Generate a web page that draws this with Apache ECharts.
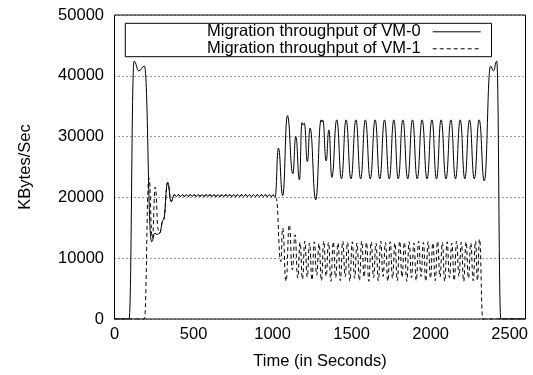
<!DOCTYPE html>
<html>
<head>
<meta charset="utf-8">
<script src="https://cdn.jsdelivr.net/npm/echarts@6/dist/echarts.min.js"></script>
<style>html,body{margin:0;padding:0;background:#fff}#c{width:533px;height:375px}</style>
</head>
<body>
<div id="c"></div>
<script>
const seriesNames = ['Migration throughput of VM-0', 'Migration throughput of VM-1'];
const xTicks = [0, 500, 1000, 1500, 2000, 2500];
const yTicks = [0, 10000, 20000, 30000, 40000, 50000];

// VM-0 start-up phase
const vm0Start = [[0,0],[92,0],[124,42400],[154,40800],[189,41600],[235,12700],[256,14100],[270,13900],[284,14100]];
// VM-1 start-up phase
const vm1Start = [[0,0],[189,0],[218,23150],[239,13300],[258,21700],[277,14700],[284,14100]];
// shared steady phase (both VMs overlap)
const steady = [[309,16300],[337,22450],[358,19330],[379,20450],
 [392,20150],[404,20450],[417,20150],[429,20450],[442,20150],[454,20450],[467,20150],[479,20450],
 [492,20150],[504,20450],[517,20150],[529,20450],[542,20150],[554,20450],[567,20150],[579,20450],
 [592,20150],[604,20450],[617,20150],[629,20450],[642,20150],[654,20450],[667,20150],[679,20450],
 [692,20150],[704,20450],[717,20150],[729,20450],[742,20150],[754,20450],[767,20150],[779,20450],
 [792,20150],[804,20450],[817,20150],[829,20450],[842,20150],[854,20450],[867,20150],[879,20450],
 [892,20150],[904,20450],[917,20150],[929,20450],[942,20150],[954,20450],[967,20150],[979,20450],
 [992,20150],[1004,20400],[1016,20100]];
// VM-0 after 1000 s
const vm0Late = [[1037,28100],[1064,20300],[1094,33450],[1128,23900],[1147,30000],[1170,22900],
 [1186,32300],[1194,31900],[1201,32200],[1220,25900],[1237,31400],[1273,19600],
 [1307,32750],[1313,32400],[1318,32700],[1339,26000],[1356,31100],[1375,23300],
 [1406,32750],[1436,23050],[1465,32750],[1496,23050],[1527,32750],[1557,23050],[1587,32750],[1618,23050],
 [1649,32750],[1678,23050],[1708,32750],[1738,23050],[1767,32750],[1795,23050],[1824,32750],[1855,23050],
 [1885,32750],[1915,23050],[1946,32750],[1977,23050],[2008,32750],[2037,23050],[2066,32750],[2097,23050],
 [2128,32750],[2157,23050],[2187,32750],[2216,23050],[2246,32750],[2276,23050],[2307,32750],[2339,22700],
 [2379,41600],[2397,40800],[2418,42400],[2444,0],[2600,0]];
// VM-1 after 1000 s
const vm1Late = [[1022,19900],[1052,9460],[1064,14950],[1085,6180],[1106,15500],[1125,8100],[1142,13850],[1159,6730],
 [1174,12600],[1189,6500],[1204,12800],[1219,6900],[1234,12500],[1249,6400],[1264,12700],[1279,7200],
 [1294,12400],[1309,6300],[1324,12800],[1339,7000],[1354,12600],[1369,6200],[1384,12700],[1399,6800],
 [1414,12500],[1429,6300],[1444,12800],[1459,7000],[1474,12600],[1489,6200],[1504,12700],[1519,6700],
 [1534,12500],[1549,6300],[1564,12800],[1579,6900],[1594,12600],[1609,6200],[1624,12700],[1639,6800],
 [1654,12500],[1669,6300],[1684,12800],[1699,7000],[1714,12600],[1729,6200],[1744,12700],[1759,6700],
 [1774,12500],[1789,6300],[1804,12800],[1819,6900],[1834,12600],[1849,6200],[1864,12700],[1879,6800],
 [1894,12500],[1909,6300],[1924,12800],[1939,7000],[1954,12600],[1969,6200],[1984,12700],[1999,6700],
 [2014,12500],[2029,6300],[2044,12800],[2059,6900],[2074,12600],[2089,6200],[2104,12700],[2119,6800],
 [2134,12500],[2149,6300],[2164,12800],[2179,7000],[2194,12600],[2209,6200],[2224,12700],[2239,6700],
 [2254,12500],[2269,6300],[2284,12800],[2296,6300],[2309,13150],[2330,0],[2600,0]];

const vm0 = vm0Start.concat(steady, vm0Late);
const vm1 = vm1Start.concat(steady, vm1Late);

const FONT = 'Liberation Sans';
const FS = 16.5;
const chart = echarts.init(document.getElementById('c'), null, {renderer: 'canvas'});
chart.setOption({
  animation: false,
  backgroundColor: '#fff',
  textStyle: {fontFamily: FONT, color: '#000'},
  grid: {left: 114.5, right: 7.5, top: 15, bottom: 55.7, show: true, borderColor: '#000', borderWidth: 1, backgroundColor: 'transparent', containLabel: false},
  graphic: [{type: 'rect', silent: true, z: 0, shape: {x: 125.3, y: 23.3, width: 366.2, height: 33.4}, style: {fill: '#fff', stroke: '#000', lineWidth: 1}}],
  legend: {
    data: seriesNames, orient: 'vertical', align: 'right', right: 51.8, top: 23.3,
    padding: 0, itemGap: 0, itemWidth: 48, itemHeight: 16.7,
    itemStyle: {opacity: 0},
    lineStyle: {width: 1},
    textStyle: {fontFamily: FONT, fontSize: FS, color: '#000', padding: [0, 7, 0, 0]},
    z: 10
  },
  xAxis: {
    type: 'value', min: 0, max: 2600, interval: 500,
    name: 'Time (in Seconds)', nameLocation: 'middle', nameGap: 34,
    nameTextStyle: {fontFamily: FONT, fontSize: FS, color: '#000'},
    axisLine: {show: false}, axisTick: {show: false}, splitLine: {show: false},
    axisLabel: {fontFamily: FONT, fontSize: FS, color: '#000', margin: 7,
      formatter: v => xTicks.includes(v) ? String(v) : ''}
  },
  yAxis: {
    type: 'value', min: 0, max: 50000, interval: 10000,
    name: 'KBytes/Sec', nameLocation: 'middle', nameGap: 81,
    nameTextStyle: {fontFamily: FONT, fontSize: FS, color: '#000'},
    axisLine: {show: false}, axisTick: {show: false},
    splitLine: {show: true, lineStyle: {color: '#333', width: 1, type: [1, 3]}},
    axisLabel: {fontFamily: FONT, fontSize: FS, color: '#000', margin: 10.5,
      formatter: v => yTicks.includes(v) ? String(v) : ''}
  },
  series: [
    {name: seriesNames[0], type: 'line', data: vm0, showSymbol: false, symbol: 'none',
     smooth: 0.5, smoothMonotone: 'x', lineStyle: {color: '#000', width: 1, type: 'solid'}, itemStyle: {color: '#000'}, z: 3},
    {name: seriesNames[1], type: 'line', data: vm1, showSymbol: false, symbol: 'none',
     smooth: 0.5, smoothMonotone: 'x', lineStyle: {color: '#000', width: 1, type: [4, 3]}, itemStyle: {color: '#000'}, z: 2}
  ]
});
</script>
</body>
</html>
